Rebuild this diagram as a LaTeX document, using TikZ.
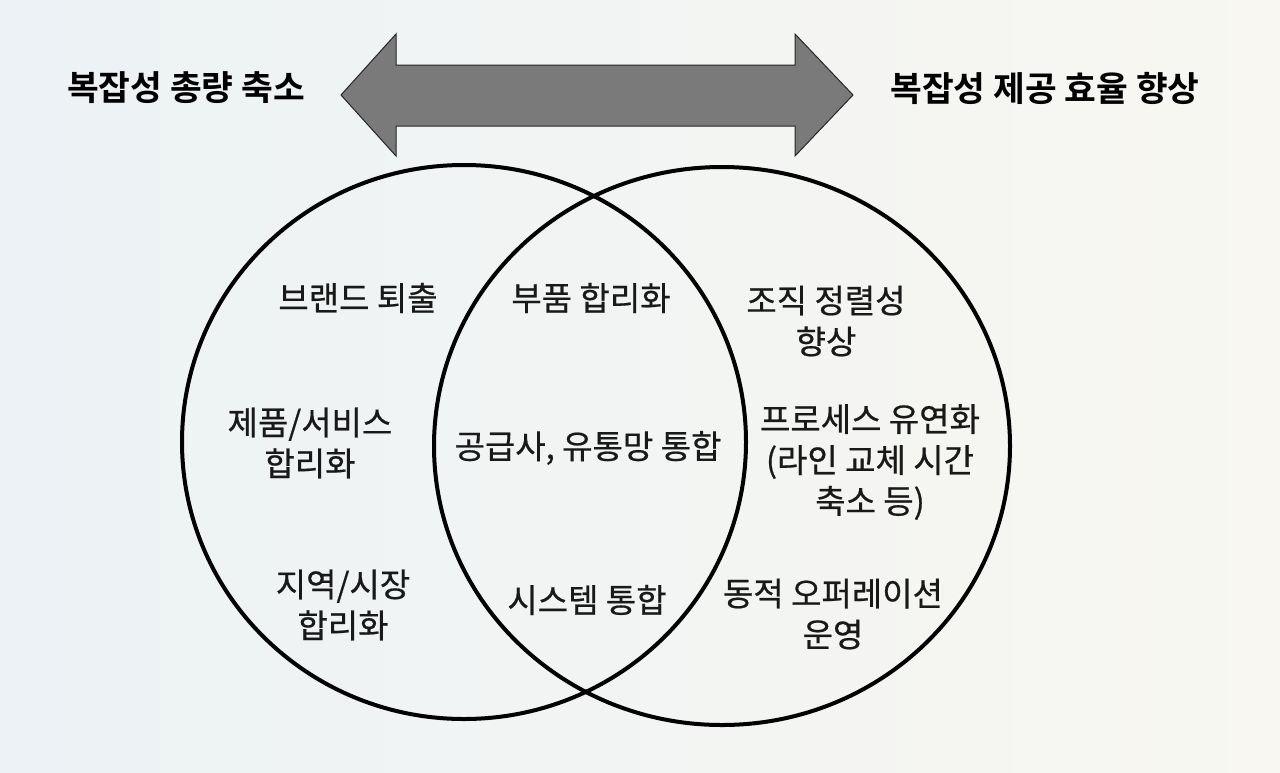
\documentclass[tikz,border=0pt]{standalone}
\usepackage{fontspec}
\setmainfont{Noto Sans CJK KR}[BoldFont={* Bold}]
\newfontfamily\krmed{Noto Sans CJK KR}[FakeBold=0.6]
\definecolor{bgL}{RGB}{236,242,245}
\definecolor{bgR}{RGB}{248,247,241}
\definecolor{arrowfill}{RGB}{122,122,122}
\tikzset{
  venn/.style={draw=black, line width=4pt},
  lbl/.style={font=\krmed\fontsize{33}{41}\selectfont, align=center, inner sep=0pt, text=black!90},
  head/.style={font=\fontsize{34.5}{40}\selectfont\bfseries, inner sep=0pt, text=black},
  bigarrow/.style={draw=black!85, line width=1pt, fill=arrowfill, line join=miter}
}
\begin{document}
\begin{tikzpicture}[x=1pt,y=-1pt]
\useasboundingbox (0,0) rectangle (1280,772);
\shade[left color=bgL, right color=bgR] (0,0) rectangle (1280,772);
% double arrow
\coordinate (tipL) at (341,95);
\coordinate (tipR) at (853,95);
\draw[bigarrow] (tipL) -- (396,34) -- (396,65) -- (795,65) -- (795,34) -- (tipR)
  -- (795,156) -- (795,126) -- (396,126) -- (396,156) -- cycle;
% headers
\node[head] (hL) at (186,88) {복잡성 총량 축소};
\node[head] (hR) at (1045,88) {복잡성 제공 효율 향상};
% circles
\draw[venn] (464,442) ellipse [x radius=282, y radius=277];
\draw[venn] (722,446) ellipse [x radius=288, y radius=279];
% left-only
\node[lbl] (brand) at (358,298) {브랜드 퇴출};
\node[lbl] (prod) at (310,443) {제품/서비스\\합리화};
\node[lbl] (region) at (343,605) {지역/시장\\합리화};
% intersection
\node[lbl] (parts) at (591,298) {부품 합리화};
\node[lbl] (supply) at (588,448) {공급사, 유통망 통합};
\node[lbl] (sys) at (587,600) {시스템 통합};
% right-only
\node[lbl] (org) at (826,321) {조직 정렬성\\향상};
\node[lbl] (proc) at (870,462) {프로세스 유연화\\(라인 교체 시간\\축소 등)};
\node[lbl] (dyn) at (833,614) {동적 오퍼레이션\\운영};
\end{tikzpicture}
\end{document}
